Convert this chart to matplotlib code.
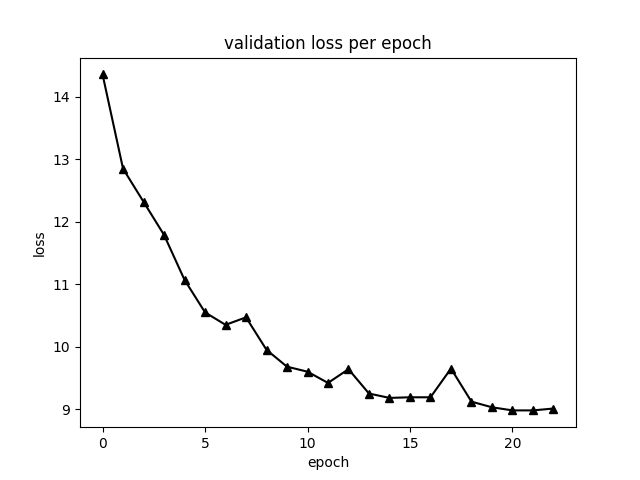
import matplotlib
matplotlib.use('Agg')
import matplotlib.pyplot as plt

epochs = list(range(23))
val_loss = [14.36, 12.85, 12.32, 11.79, 11.07, 10.55, 10.35, 10.47, 9.95, 9.68,
            9.60, 9.42, 9.64, 9.25, 9.18, 9.19, 9.19, 9.65, 9.12, 9.03,
            8.98, 8.98, 9.01]

plt.figure(figsize=(6.4, 4.8), dpi=100)
plt.plot(epochs, val_loss, color='black', marker='^')
plt.title('validation loss per epoch')
plt.xlabel('epoch')
plt.ylabel('loss')
plt.savefig('out.png')
